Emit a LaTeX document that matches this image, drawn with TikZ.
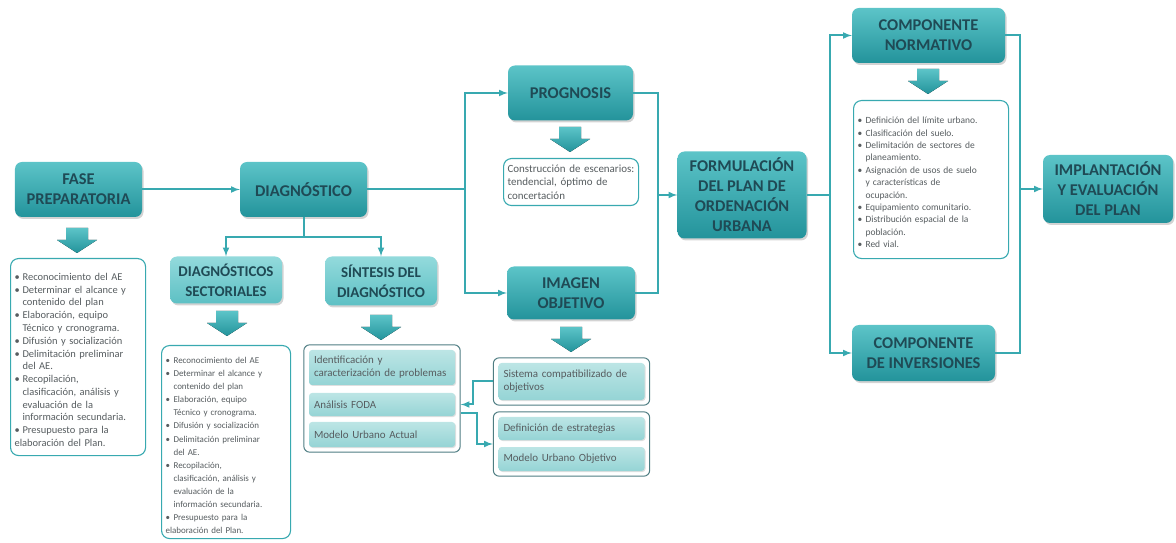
\documentclass[tikz,border=0pt]{standalone}
\usepackage{fontspec}
\setmainfont{Carlito}
\usetikzlibrary{calc,positioning,fit,shadows,arrows}

\definecolor{turq}{HTML}{38A9B0}
\definecolor{turqclaro}{HTML}{5CC4C8}
\definecolor{turqoscuro}{HTML}{23939B}
\definecolor{tinta}{HTML}{1F4A55}
\definecolor{gristexto}{HTML}{575D60}
\definecolor{borde}{HTML}{4E7D82}
\definecolor{celdaclaro}{HTML}{BCE5E5}
\definecolor{celdaosc}{HTML}{95D4D5}
\definecolor{subclaro}{HTML}{93DADC}
\definecolor{subosc}{HTML}{5DC0C4}

\newcommand{\itm}{\par\noindent\hangindent=8bp\hangafter=1\makebox[8bp][l]{\textbullet}}

\tikzset{
  fase/.style={rectangle, rounded corners=7bp, top color=turqclaro, bottom color=turqoscuro,
    text=tinta, font=\fontsize{16.5}{20}\selectfont\bfseries, align=center, inner sep=0pt,
    drop shadow={opacity=0.35, shadow xshift=1.5bp, shadow yshift=-2bp}},
  subfase/.style={fase, top color=subclaro, bottom color=subosc,
    font=\fontsize{15}{20}\selectfont\bfseries},
  lista/.style={rectangle, draw=turq, line width=1.1bp, rounded corners=8bp, fill=white,
    text=gristexto, align=left, inner sep=4bp, anchor=north west},
  celda/.style={rectangle, rounded corners=3bp, top color=celdaclaro, bottom color=celdaosc,
    text=gristexto, font=\fontsize{11}{13}\selectfont, align=left, inner sep=5bp,
    text width=136bp, minimum width=146bp,
    drop shadow={opacity=0.25, shadow xshift=1bp, shadow yshift=-1bp}},
  grupo/.style={rectangle, draw=borde, line width=1bp, rounded corners=6bp, inner sep=5bp},
  linea/.style={draw=turq, line width=2bp},
  flecha/.style={linea, ->, >=latex},
  bajar/.pic={\fill[top color=turqclaro, bottom color=turqoscuro]
    (-11,0) -- (11,0) -- (11,12) -- (20,12) -- (0,25) -- (-20,12) -- (-11,12) -- cycle;}
}

\begin{document}
\begin{tikzpicture}[x=1bp, y=-1bp]
\useasboundingbox (0,0) rectangle (1176,543);

% fases principales
\node[fase, minimum width=127bp, minimum height=55bp] (fase) at (78.5,189.5) {FASE\\PREPARATORIA};
\node[fase, minimum width=127bp, minimum height=55bp] (diag) at (303.5,189.5) {DIAGNÓSTICO};
\node[subfase, minimum width=112bp, minimum height=47bp] (sect) at (226,280) {DIAGNÓSTICOS\\SECTORIALES};
\node[subfase, minimum width=112bp, minimum height=49bp] (sint) at (381,281) {SÍNTESIS DEL\\DIAGNÓSTICO};
\node[fase, minimum width=125bp, minimum height=55bp] (prog) at (570.5,93) {PROGNOSIS};
\node[fase, minimum width=128bp, minimum height=53bp] (imag) at (571,293) {IMAGEN\\OBJETIVO};
\node[fase, minimum width=129bp, minimum height=87bp] (form) at (742,195) {FORMULACIÓN\\DEL PLAN DE\\ORDENACIÓN\\URBANA};
\node[fase, minimum width=153bp, minimum height=55bp] (norm) at (928.5,35.5) {COMPONENTE\\NORMATIVO};
\node[fase, minimum width=143bp, minimum height=56bp] (inv) at (923.5,353) {COMPONENTE\\DE INVERSIONES};
\node[fase, minimum width=130bp, minimum height=68bp] (impl) at (1108,189) {IMPLANTACIÓN\\Y EVALUACIÓN\\DEL PLAN};

% flechas de bloque
\pic at (77,228) {bajar};
\pic at (227,311) {bajar};
\pic at (381,315) {bajar};
\pic at (570,127) {bajar};
\pic at (571,327) {bajar};
\pic at (928,69) {bajar};

% listas
\node[lista, text width=127bp, minimum height=197bp, font=\fontsize{10.5}{12.8}\selectfont] (lst1) at (10,258) {%
\itm Reconocimiento del AE
\itm Determinar el alcance y\newline contenido del plan
\itm Elaboración, equipo\newline Técnico y cronograma.
\itm Difusión y socialización
\itm Delimitación preliminar\newline del AE.
\itm Recopilación,\newline clasificación, análisis y\newline evaluación de la\newline información secundaria.
\itm Presupuesto para la\newline elaboración del Plan.};

\node[lista, text width=121bp, minimum height=193bp, font=\fontsize{9}{13.1}\selectfont] (lst2) at (161,345) {%
\itm Reconocimiento del AE
\itm Determinar el alcance y\newline contenido del plan
\itm Elaboración, equipo\newline Técnico y cronograma.
\itm Difusión y socialización
\itm Delimitación preliminar\newline del AE.
\itm Recopilación,\newline clasificación, análisis y\newline evaluación de la\newline información secundaria.
\itm Presupuesto para la\newline elaboración del Plan.};

\node[lista, text width=127bp, minimum height=47bp, font=\fontsize{11}{13.5}\selectfont] (esc) at (503,158)
  {Construcción de escenarios:\newline tendencial, óptimo de\newline concertación};

\node[lista, text width=147bp, minimum height=158bp, font=\fontsize{9.5}{12.4}\selectfont] (lstn) at (853,100) {%
\itm Definición del límite urbano.
\itm Clasificación del suelo.
\itm Delimitación de sectores de\newline planeamiento.
\itm Asignación de usos de suelo\newline y características de\newline ocupación.
\itm Equipamiento comunitario.
\itm Distribución espacial de la\newline población.
\itm Red vial.};

% celdas de la sintesis
\node[celda, minimum height=35bp] (prob) at (382,367.5) {Identificación y\newline caracterización de problemas};
\node[celda, minimum height=23bp] (foda) at (382,404.5) {Análisis FODA};
\node[celda, minimum height=25bp] (actual) at (382,434.5) {Modelo Urbano Actual};
\node[grupo, fit=(prob)(actual)] (sintbox) {};

% celdas de la imagen objetivo
\node[celda, minimum height=37bp] (sis) at (571.5,381.5) {Sistema compatibilizado de\newline objetivos};
\node[celda, minimum height=23bp] (estr) at (571.5,428.5) {Definición de estrategias};
\node[celda, minimum height=24bp] (obj) at (571.5,459) {Modelo Urbano Objetivo};
\node[grupo, fit=(sis)] (sisbox) {};
\node[grupo, fit=(estr)(obj)] (objbox) {};

% conectores
\coordinate (rama) at (303.5,237);
\coordinate (bif) at (465,189.5);
\coordinate (une) at (658,195);
\coordinate (reparte) at (830,195);
\coordinate (junta) at (1020,189);

\draw[flecha] (fase) -- (diag);
\draw[linea] (diag) -- (rama);
\draw[flecha] (rama) -| (sect);
\draw[flecha] (rama) -| (sint);
\draw[linea] (diag) -- (bif);
\draw[flecha] (bif) |- (prog);
\draw[flecha] (bif) |- (imag);
\draw[linea] (prog) -| (une);
\draw[linea] (imag) -| (une);
\draw[flecha] (une) -- (form);
\draw[linea] (form) -- (reparte);
\draw[flecha] (reparte) |- (norm);
\draw[flecha] (reparte) |- (inv);
\draw[linea] (norm) -| (junta);
\draw[linea] (inv) -| (junta);
\draw[flecha] (junta) -- (impl);
\draw[flecha] (sisbox.west) -- ++(-20,0) |- (foda.east -| sintbox.east);
\draw[flecha] ($(foda.east -| sintbox.east)+(0,8)$) -- ++(16,0) |- (objbox.west);
\end{tikzpicture}
\end{document}
